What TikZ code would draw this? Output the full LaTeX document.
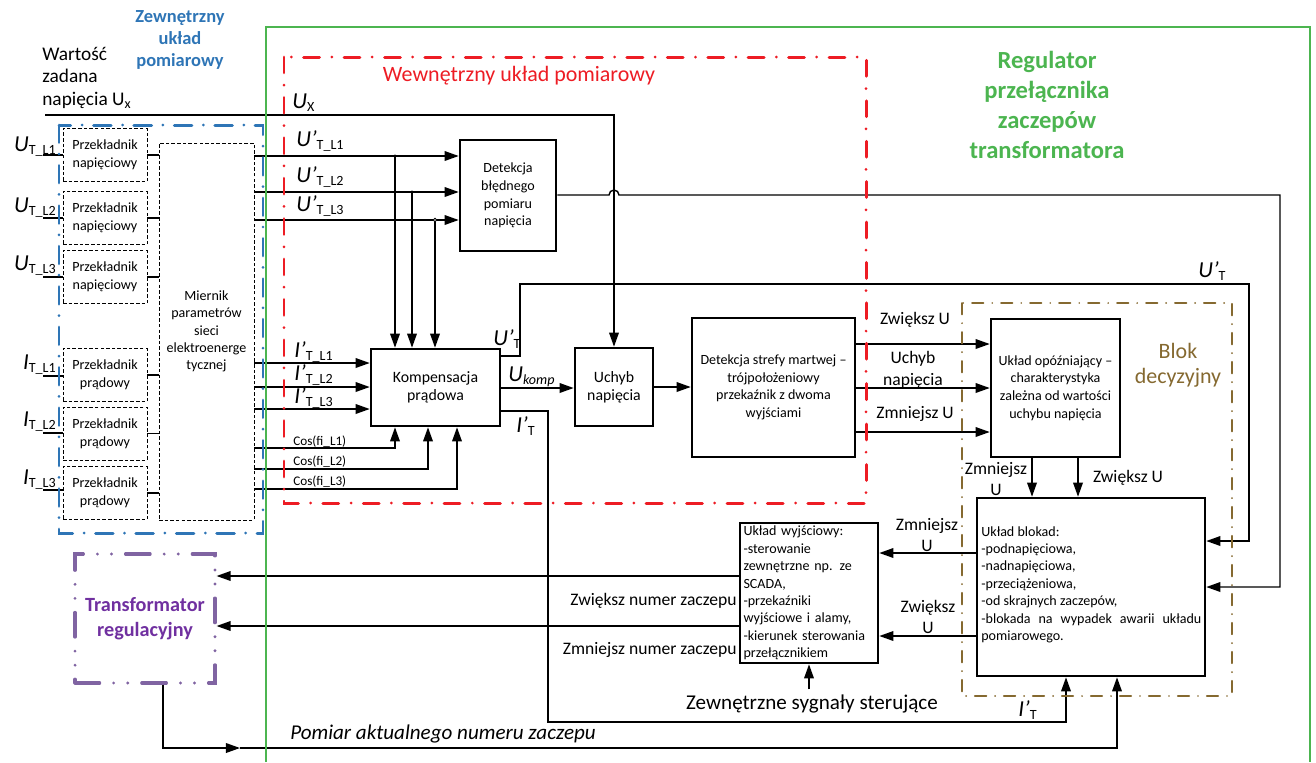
\documentclass[tikz,border=0pt]{standalone}
\usepackage{fontspec}
\setmainfont{Carlito}
\usetikzlibrary{arrows.meta, positioning}

\definecolor{regGreen}{RGB}{76,181,80}
\definecolor{extBlue}{RGB}{46,117,182}
\definecolor{intRed}{RGB}{237,28,36}
\definecolor{decBrown}{RGB}{133,105,48}
\definecolor{trafoPurple}{RGB}{112,48,160}
\definecolor{trafoLine}{RGB}{128,100,162}

\newcommand\lowsub[1]{\raisebox{-0.35ex}{\fontsize{8}{9}\selectfont\upshape #1}}
\newcommand\siglab[2]{\textit{#1}\lowsub{#2}}

\begin{document}
\begin{tikzpicture}[
  x=0.02cm, y=-0.02cm,
  >={Triangle[length=8pt, width=5.5pt]},
  sig/.style={line width=0.8pt},
  blk/.style={draw, line width=1.5pt, align=center, inner sep=1pt, font=\fontsize{8}{10}\selectfont},
  dbox/.style={draw, line width=0.5pt, dash pattern=on 2pt off 1.2pt, align=center, inner sep=1pt,
    font=\fontsize{8}{10.5}\selectfont, minimum width=1.68cm, minimum height=1.06cm},
  lab/.style={font=\fontsize{13}{15}\selectfont, inner sep=0pt},
  txt/.style={font=\fontsize{10}{12.4}\selectfont, align=center, inner sep=0pt},
  cosl/.style={font=\fontsize{7.5}{9}\selectfont, inner sep=0pt},
  frameRed/.style={intRed, line width=1.7pt, line cap=round, dash pattern=on 9pt off 7pt on 0pt off 7pt},
  frameBlue/.style={extBlue, line width=1.7pt, line cap=round, dash pattern=on 10pt off 6.5pt on 0pt off 6.5pt},
  frameBrown/.style={decBrown, line width=1.1pt, line cap=round, dash pattern=on 6.5pt off 5pt on 0pt off 5pt}
]
\useasboundingbox (0,0) rectangle (1316,762);

% Measuring transformers and meter
\node[dbox] (vt1) at (105,155) {Przekładnik\\napięciowy};
\node[dbox] (vt2) at (105,218) {Przekładnik\\napięciowy};
\node[dbox] (vt3) at (105,277) {Przekładnik\\napięciowy};
\node[dbox] (ct1) at (105,375) {Przekładnik\\prądowy};
\node[dbox] (ct2) at (105,433.5) {Przekładnik\\prądowy};
\node[dbox] (ct3) at (105,493) {Przekładnik\\prądowy};
\node[dbox, minimum width=1.9cm, minimum height=7.54cm, font=\fontsize{8}{9.9}\selectfont] (miernik) at (206.5,331.5)
  {Miernik\\parametrów\\sieci\\elektroenerge\\tycznej};

% Regulator blocks
\node[blk, minimum width=1.92cm, minimum height=2.22cm] (detb) at (508,195.5) {Detekcja\\błędnego\\pomiaru\\napięcia};
\node[blk, minimum width=2.58cm, minimum height=1.54cm, font=\fontsize{9}{10.2}\selectfont] (komp) at (435.5,387.5) {Kompensacja\\prądowa};
\node[blk, minimum width=1.56cm, minimum height=1.56cm, font=\fontsize{9}{10.2}\selectfont] (uchyb) at (614,387) {Uchyb\\napięcia};
\node[blk, minimum width=3.26cm, minimum height=2.78cm] (strefa) at (773.5,387.5)
  {Detekcja strefy martwej –\\trójpołożeniowy\\przekaźnik z dwoma\\wyjściami};
\node[blk, minimum width=2.58cm, minimum height=2.76cm] (opozn) at (1055.5,388)
  {Układ opóźniający –\\charakterystyka\\zależna od wartości\\uchybu napięcia};
\node[blk, minimum width=4.56cm, minimum height=3.56cm] (blokad) at (1091,587) {};
\node[font=\fontsize{8}{9.9}\selectfont, inner sep=0pt, anchor=north west, align=left] (blokadtxt) at (981,526)
  {Układ blokad:\\-podnapięciowa,\\-nadnapięciowa,\\-przeciążeniowa,\\-od skrajnych zaczepów,\\
   \makebox[4.4cm][s]{-blokada na wypadek awarii układu}\\pomiarowego.};
\node[blk, text width=2.62cm, inner xsep=2pt, minimum height=2.8cm, align=left, font=\fontsize{8}{9.9}\selectfont] (wyj) at (809,593)
  {Układ wyjściowy:\\-sterowanie\\\makebox[2.62cm][s]{zewnętrzne np. ze}\\SCADA,\\-przekaźniki\\wyjściowe i alamy,\\
   \makebox[2.62cm][s]{-kierunek sterowania}\\przełącznikiem};
\node[draw=trafoLine, line width=1.8pt, line cap=round, dash pattern=on 14pt off 8pt on 0pt off 8pt on 0pt off 8pt,
  minimum width=2.8cm, minimum height=2.58cm, align=center, text=trafoPurple,
  font=\fontsize{11.5}{14}\selectfont\bfseries] (trafo) at (145,618.5) {Transformator\\regulacyjny};

% Group titles
\node[txt, text=regGreen, font=\fontsize{14}{17}\selectfont\bfseries] (regtitle) at (1047,105) {Regulator\\przełącznika\\zaczepów\\transformatora};
\node[txt, text=extBlue, font=\fontsize{10.5}{12.5}\selectfont\bfseries] (exttitle) at (180,40) {Zewnętrzny\\układ\\pomiarowy};
\node[txt, anchor=west, align=left, font=\fontsize{11}{12.8}\selectfont] (setpoint) at (42,78) {Wartość\\zadana\\napięcia U\lowsub{x}};
\node[txt, text=intRed, font=\fontsize{12.5}{15}\selectfont] (inttitle) at (519,76) {Wewnętrzny układ pomiarowy};
\node[txt, text=decBrown, font=\fontsize{12.5}{14.5}\selectfont] (dectitle) at (1178,365) {Blok\\decyzyjny};

% Signal labels
\node[lab, anchor=base east] (lU1) at (56,151) {\siglab{U}{T\_L1}};
\node[lab, anchor=base east] (lU2) at (56,212) {\siglab{U}{T\_L2}};
\node[lab, anchor=base east] (lU3) at (56,270) {\siglab{U}{T\_L3}};
\node[lab, anchor=base east] (lI1) at (56,369) {\siglab{I}{T\_L1}};
\node[lab, anchor=base east] (lI2) at (56,426) {\siglab{I}{T\_L2}};
\node[lab, anchor=base east] (lI3) at (56,484) {\siglab{I}{T\_L3}};
\node[lab, anchor=base west] (lUx) at (292,108) {\siglab{U}{X}};
\node[lab, anchor=base west] (lUp1) at (296,146) {\siglab{U’}{T\_L1}};
\node[lab, anchor=base west] (lUp2) at (296,182) {\siglab{U’}{T\_L2}};
\node[lab, anchor=base west] (lUp3) at (296,211) {\siglab{U’}{T\_L3}};
\node[lab, anchor=base west] (lIp1) at (294,357) {\siglab{I’}{T\_L1}};
\node[lab, anchor=base west] (lIp2) at (294,380) {\siglab{I’}{T\_L2}};
\node[lab, anchor=base west] (lIp3) at (294,403) {\siglab{I’}{T\_L3}};
\node[cosl, anchor=base west] (lcos1) at (293,445) {Cos(fi\_L1)};
\node[cosl, anchor=base west] (lcos2) at (293,465) {Cos(fi\_L2)};
\node[cosl, anchor=base west] (lcos3) at (293,485) {Cos(fi\_L3)};
\node[lab, anchor=base west] (lUpT) at (493,345) {\siglab{U’}{T}};
\node[lab, anchor=base west] (lUk) at (508,381) {\textit{U}\lowsub{\itshape komp}};
\node[lab, anchor=base west] (lIpT) at (516,432) {\siglab{I’}{T}};
\node[lab, anchor=base west] (lUpT2) at (1198,277) {\siglab{U’}{T}};
\node[lab, anchor=base west] (lIpT2) at (1018,716) {\siglab{I’}{T}};

\node[txt] (lzw1) at (915,320) {Zwiększ U};
\node[txt] (luch) at (913,370) {Uchyb\\napięcia};
\node[txt] (lzm1) at (915,414) {Zmniejsz U};
\node[txt] (lzm2) at (996,479) {Zmniejsz\\U};
\node[txt] (lzw2) at (1128,478) {Zwiększ U};
\node[txt] (lzm3) at (927,535) {Zmniejsz\\U};
\node[txt] (lzw3) at (928,617) {Zwiększ\\U};
\node[txt, anchor=east] (lzwn) at (737,601) {Zwiększ numer zaczepu};
\node[txt, anchor=east] (lzmn) at (737,650) {Zmniejsz numer zaczepu};
\node[txt, font=\fontsize{12}{14}\selectfont] (extsig) at (812,704) {Zewnętrzne sygnały sterujące};
\node[txt, anchor=west, font=\fontsize{12}{14}\selectfont\itshape] (lpom) at (290,734) {Pomiar aktualnego numeru zaczepu};

% Inputs
\coordinate (inUx) at (45,115);
\coordinate (inU1) at (43,155);
\coordinate (inU2) at (43,218);
\coordinate (inU3) at (43,277);
\coordinate (inI1) at (43,376);
\coordinate (inI2) at (43,433);
\coordinate (inI3) at (43,490);
\draw[sig,->] (inUx) -| (uchyb.north);
\draw[sig] (inU1) -- (inU1 -| vt1.west);
\draw[sig] (inU2) -- (inU2 -| vt2.west);
\draw[sig] (inU3) -- (inU3 -| vt3.west);
\draw[sig] (inI1) -- (inI1 -| ct1.west);
\draw[sig] (inI2) -- (inI2 -| ct2.west);
\draw[sig] (inI3) -- (inI3 -| ct3.west);

% Transformers to meter
\draw[sig] (vt1.east) -- (vt1.east -| miernik.west);
\draw[sig] (vt2.east) -- (vt2.east -| miernik.west);
\draw[sig] (vt3.east) -- (vt3.east -| miernik.west);
\draw[sig] (ct1.east) -- (ct1.east -| miernik.west);
\draw[sig] (ct2.east) -- (ct2.east -| miernik.west);
\draw[sig] (ct3.east) -- (ct3.east -| miernik.west);

% Measured voltages
\coordinate (tap1) at (395,156);
\coordinate (tap2) at (412,192);
\coordinate (tap3) at (435,220);
\draw[sig,->] (miernik.east |- tap1) -- (tap1 -| detb.west);
\draw[sig,->] (miernik.east |- tap2) -- (tap2 -| detb.west);
\draw[sig,->] (miernik.east |- tap3) -- (tap3 -| detb.west);
\draw[sig,->] (tap1) -- (tap1 |- komp.north);
\draw[sig,->] (tap2) -- (tap2 |- komp.north);
\draw[sig,->] (tap3) -- (tap3 |- komp.north);
\fill (tap1) circle[radius=1.6];
\fill (tap2) circle[radius=1.6];
\filldraw[fill=white, line width=0.5pt] (tap3) circle[radius=1.8];

% Measured currents and power factors
\draw[sig,->] (miernik.east |- 0,363) -- (komp.west |- 0,363);
\draw[sig,->] (miernik.east |- 0,387) -- (komp.west |- 0,387);
\draw[sig,->] (miernik.east |- 0,409) -- (komp.west |- 0,409);
\draw[sig,->] (miernik.east |- 0,448) -| (komp.south -| 395,0);
\draw[sig,->] (miernik.east |- 0,469) -| (komp.south -| 428,0);
\draw[sig,->] (miernik.east |- 0,489) -| (komp.south -| 457,0);

% Compensation outputs
\draw[sig,->] (komp.east |- 0,356) -| (520,284) -| (1249,541) -- (blokad.east |- 0,541);
\draw[sig,->] (komp.east |- 0,388) -- (uchyb.west |- 0,388);
\draw[sig,->] (komp.east |- 0,411) -| (548,722) -| (blokad.south -| 1066,0);

% Decision chain
\draw[sig,->] (uchyb.east) -- (uchyb.east -| strefa.west);
\draw[sig,->] (strefa.east |- 0,344) -- (opozn.west |- 0,344);
\draw[sig,->] (strefa.east |- 0,388) -- (opozn.west |- 0,388);
\draw[sig,->] (strefa.east |- 0,432) -- (opozn.west |- 0,432);
\draw[sig,->] (opozn.south -| 1032,0) -- (blokad.north -| 1032,0);
\draw[sig,->] (opozn.south -| 1078,0) -- (blokad.north -| 1078,0);
\draw[sig,->] (detb.east |- 0,195) -- (609,195) arc[start angle=180, end angle=360, radius=5]
  -- (1280,195) |- (blokad.east |- 0,587);

% Outputs
\draw[sig,->] (blokad.west |- 0,553) -- (wyj.east |- 0,553);
\draw[sig,->] (blokad.west |- 0,636) -- (wyj.east |- 0,636);
\draw[sig,->] (wyj.west |- 0,576) -- (trafo.east |- 0,576);
\draw[sig,->] (wyj.west |- 0,626) -- (trafo.east |- 0,626);
\draw[sig,->] ([yshift=3pt]extsig.north -| wyj.south) -- (wyj.south);
\coordinate (pommid) at (240,748);
\draw[sig,->] (trafo.south -| 163,0) |- (pommid);
\draw[sig,->] (pommid) -| (blokad.south -| 1117,0);

% Group frames
\draw[regGreen, line width=1.5pt] (266,762) -- (266,27) -- (1310,27) -- (1310,762);
\draw[frameBlue] (59,125) rectangle (263,533);
\draw[frameRed] (284,57) rectangle (866,503);
\draw[frameBrown] (962,303) rectangle (1232,696);

\end{tikzpicture}
\end{document}
